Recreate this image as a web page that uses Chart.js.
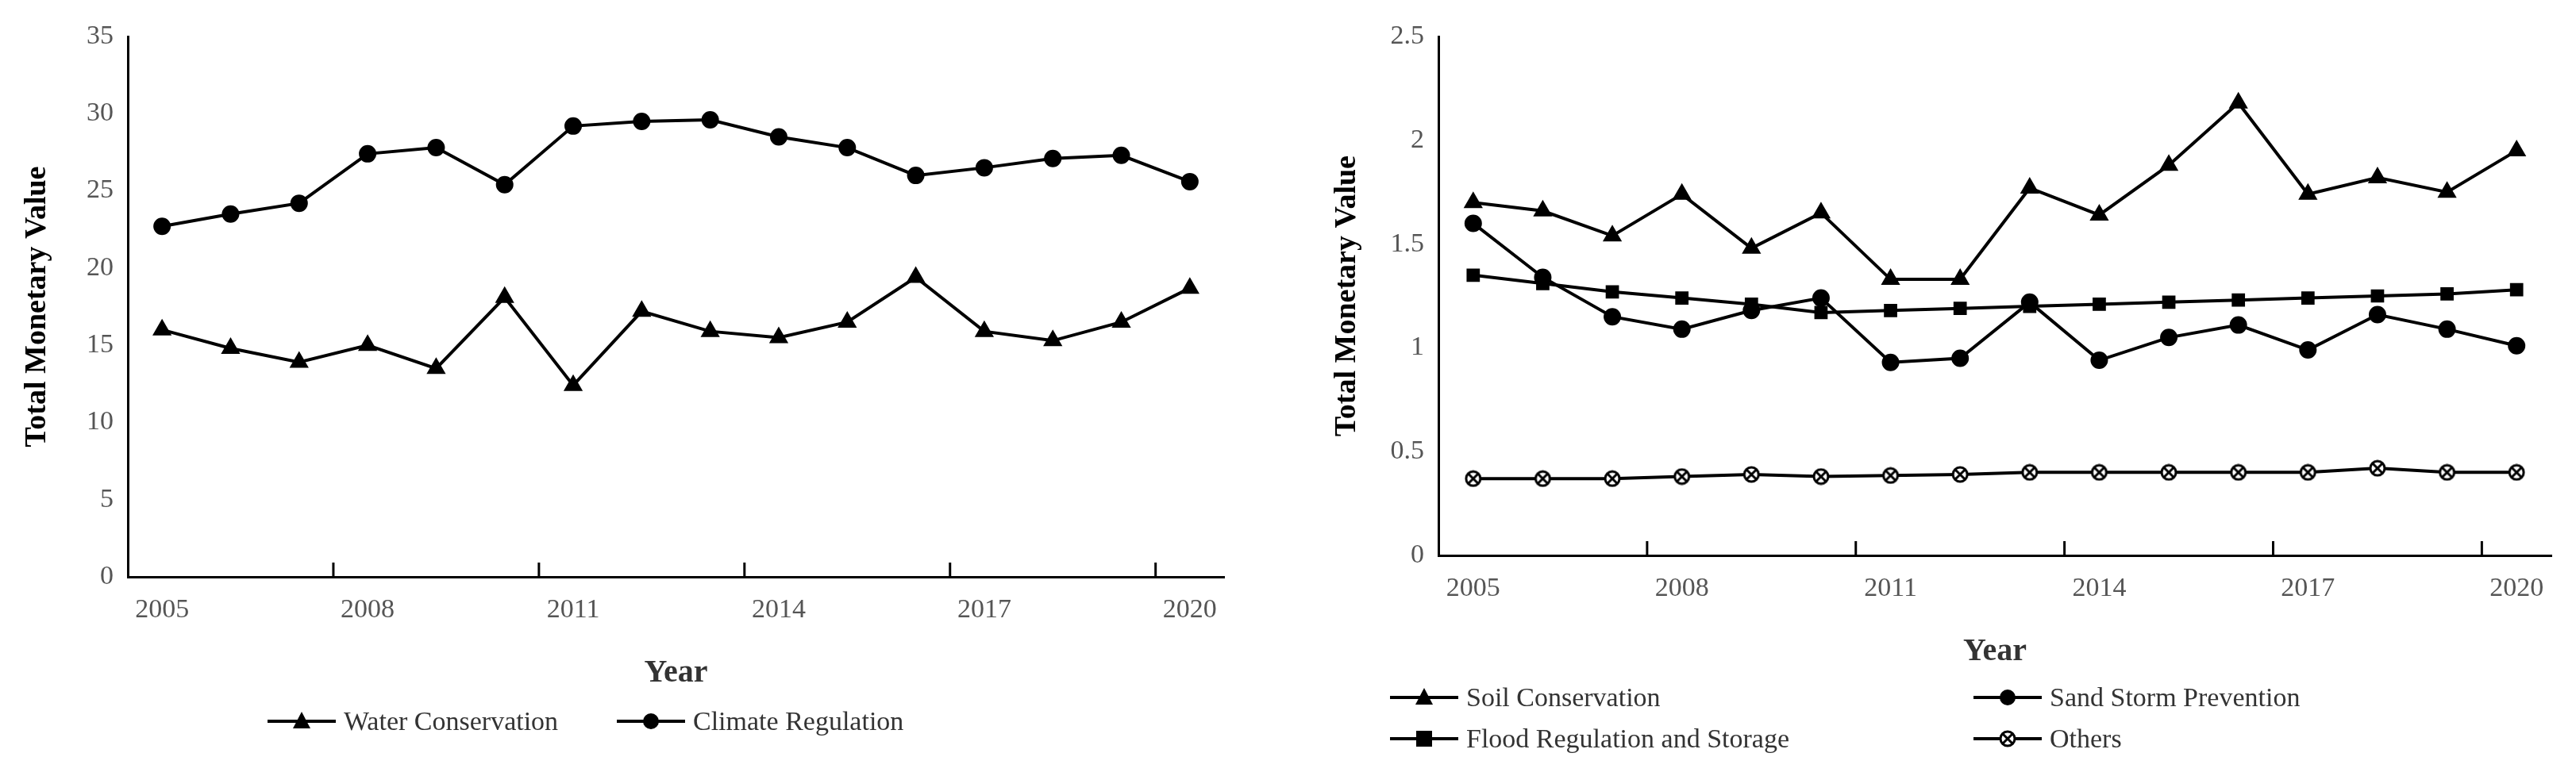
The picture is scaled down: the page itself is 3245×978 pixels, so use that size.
<!DOCTYPE html>
<html>
<head>
<meta charset="utf-8">
<script src="https://cdn.jsdelivr.net/npm/chart.js@4"></script>
<style>
  body { margin: 0; background: #fff; width: 3245px; height: 978px; position: relative; overflow: hidden; }
  .box { position: absolute; top: 0; height: 978px; }
  .legend { position: absolute; font-family: "Liberation Serif", serif; font-size: 34px; color: #333; white-space: nowrap; }
  .item { position: absolute; display: flex; align-items: center; }
  .item canvas { margin-right: 8px; }
</style>
</head>
<body>
<div class="box" style="left:0;width:1600px"><canvas id="left"></canvas></div>
<div class="box" style="left:1640px;width:1605px"><canvas id="right"></canvas></div>
<div class="legend" id="legendLeft"></div>
<div class="legend" id="legendRight"></div>
<script>
const years = [2005, 2006, 2007, 2008, 2009, 2010, 2011, 2012, 2013, 2014, 2015, 2016, 2017, 2018, 2019, 2020];
const yearLabels = [2005, 2008, 2011, 2014, 2017, 2020];

const waterConservation = [16, 14.8, 13.9, 15, 13.5, 18.1, 12.4, 17.2, 15.9, 15.5, 16.5, 19.4, 15.9, 15.3, 16.5, 18.7];
const climateRegulation = [22.7, 23.5, 24.2, 27.4, 27.8, 25.4, 29.2, 29.5, 29.6, 28.5, 27.8, 26, 26.5, 27.1, 27.3, 25.6];

const soilConservation = [1.70, 1.66, 1.54, 1.74, 1.48, 1.65, 1.33, 1.33, 1.77, 1.64, 1.88, 2.18, 1.74, 1.82, 1.75, 1.95];
const sandStorm = [1.60, 1.34, 1.15, 1.09, 1.18, 1.24, 0.93, 0.95, 1.22, 0.94, 1.05, 1.11, 0.99, 1.16, 1.09, 1.01];
const floodRegulation = [1.35, 1.31, 1.27, 1.24, 1.21, 1.17, 1.18, 1.19, 1.20, 1.21, 1.22, 1.23, 1.24, 1.25, 1.26, 1.28];
const others = [0.37, 0.37, 0.37, 0.38, 0.39, 0.38, 0.385, 0.39, 0.40, 0.40, 0.40, 0.40, 0.40, 0.42, 0.40, 0.40];

// circle with an X, for "Others"
function crossCircle(size) {
  const c = document.createElement("canvas");
  c.width = size; c.height = size;
  const g = c.getContext("2d");
  const r = size / 2 - 2;
  g.fillStyle = "#fff"; g.strokeStyle = "#000"; g.lineWidth = 3;
  g.beginPath(); g.arc(size / 2, size / 2, r, 0, Math.PI * 2); g.fill(); g.stroke();
  const d = r * 0.7;
  g.beginPath();
  g.moveTo(size / 2 - d, size / 2 - d); g.lineTo(size / 2 + d, size / 2 + d);
  g.moveTo(size / 2 + d, size / 2 - d); g.lineTo(size / 2 - d, size / 2 + d);
  g.stroke();
  return c;
}
const xMark = crossCircle(22);

const styles = {
  triangle: { pointStyle: "triangle", pointRadius: 10 },
  circle: { pointStyle: "circle", pointRadius: 9 },
  rect: { pointStyle: "rect", pointRadius: 9 },
  cross: { pointStyle: xMark, pointRadius: 11 },
};

function series(label, values, style) {
  return {
    label,
    data: values.map((v, i) => ({ x: years[i], y: v })),
    borderColor: "#000",
    backgroundColor: "#000",
    pointBackgroundColor: "#000",
    pointBorderColor: "#000",
    borderWidth: 4,
    tension: 0,
    ...styles[style],
  };
}

// tick marks pointing up from the x axis, between labelled years
const innerTicks = {
  id: "innerTicks",
  afterDraw(chart) {
    const { ctx, scales: { x, y } } = chart;
    ctx.save();
    ctx.strokeStyle = "#000";
    ctx.lineWidth = 3;
    for (let v = 2007.5; v < 2020.5; v += 3) {
      const px = x.getPixelForValue(v);
      ctx.beginPath();
      ctx.moveTo(px, y.bottom);
      ctx.lineTo(px, y.bottom - 18);
      ctx.stroke();
    }
    ctx.restore();
  },
};

function makeChart(id, datasets, yMax, yStep, padding, yWidth) {
  new Chart(document.getElementById(id), {
    type: "line",
    data: { datasets },
    plugins: [innerTicks],
    options: {
      responsive: true,
      maintainAspectRatio: false,
      animation: false,
      layout: { padding },
      plugins: { legend: { display: false }, tooltip: { enabled: false } },
      scales: {
        x: {
          type: "linear",
          min: 2004.5,
          max: 2020.5,
          afterBuildTicks: (s) => { s.ticks = yearLabels.map((v) => ({ value: v })); },
          afterFit: (s) => { s.height = 150; },
          grid: { display: false, drawTicks: false },
          border: { color: "#000", width: 3 },
          ticks: {
            padding: 22,
            color: "#555",
            font: { family: "Liberation Sans Narrow, Liberation Serif", size: 34 },
            callback: (v) => String(v),
          },
          title: {
            display: true,
            text: "Year",
            color: "#333",
            padding: { top: 22 },
            font: { family: "Liberation Serif", size: 40, weight: "bold" },
          },
        },
        y: {
          min: 0,
          max: yMax,
          afterFit: (s) => { s.width = yWidth; },
          grid: { display: false, drawTicks: false },
          border: { color: "#000", width: 3 },
          ticks: {
            stepSize: yStep,
            padding: 18,
            color: "#555",
            font: { family: "Liberation Sans Narrow, Liberation Serif", size: 34 },
            callback: (v) => String(Math.round(v * 10) / 10),
          },
          title: {
            display: true,
            text: "Total Monetary Value",
            color: "#000",
            padding: { bottom: 10 },
            font: { family: "Liberation Serif", size: 38, weight: "bold" },
          },
        },
      },
    },
  });
}

makeChart("left", [
  series("Water Conservation", waterConservation, "triangle"),
  series("Climate Regulation", climateRegulation, "circle"),
], 35, 5, { top: 46, right: 58, bottom: 101, left: 20 }, 141);

makeChart("right", [
  series("Soil Conservation", soilConservation, "triangle"),
  series("Sand Storm Prevention", sandStorm, "circle"),
  series("Flood Regulation and Storage", floodRegulation, "rect"),
  series("Others", others, "cross"),
], 2.5, 0.5, { top: 46, right: 31, bottom: 128, left: 30 }, 142);

// legends: a short line with the marker on it
function legendIcon(style) {
  const c = document.createElement("canvas");
  c.width = 90; c.height = 30;
  const g = c.getContext("2d");
  g.strokeStyle = "#000"; g.fillStyle = "#000"; g.lineWidth = 4;
  g.beginPath(); g.moveTo(2, 15); g.lineTo(88, 15); g.stroke();
  if (style === "triangle") { g.beginPath(); g.moveTo(45, 3); g.lineTo(56, 24); g.lineTo(34, 24); g.fill(); }
  if (style === "circle") { g.beginPath(); g.arc(45, 15, 10, 0, Math.PI * 2); g.fill(); }
  if (style === "rect") { g.fillRect(35, 5, 20, 20); }
  if (style === "cross") { g.drawImage(xMark, 34, 4); }
  return c;
}
function addItem(parent, text, style, x, y) {
  const d = document.createElement("div");
  d.className = "item";
  d.style.left = x + "px"; d.style.top = y + "px";
  d.appendChild(legendIcon(style));
  d.appendChild(document.createTextNode(text));
  parent.appendChild(d);
}
const ll = document.getElementById("legendLeft");
ll.style.left = "0px"; ll.style.top = "0px";
addItem(ll, "Water Conservation", "triangle", 335, 890);
addItem(ll, "Climate Regulation", "circle", 775, 890);
const lr = document.getElementById("legendRight");
lr.style.left = "0px"; lr.style.top = "0px";
addItem(lr, "Soil Conservation", "triangle", 1749, 860);
addItem(lr, "Sand Storm Prevention", "circle", 2484, 860);
addItem(lr, "Flood Regulation and Storage", "rect", 1749, 912);
addItem(lr, "Others", "cross", 2484, 912);
</script>
</body>
</html>
